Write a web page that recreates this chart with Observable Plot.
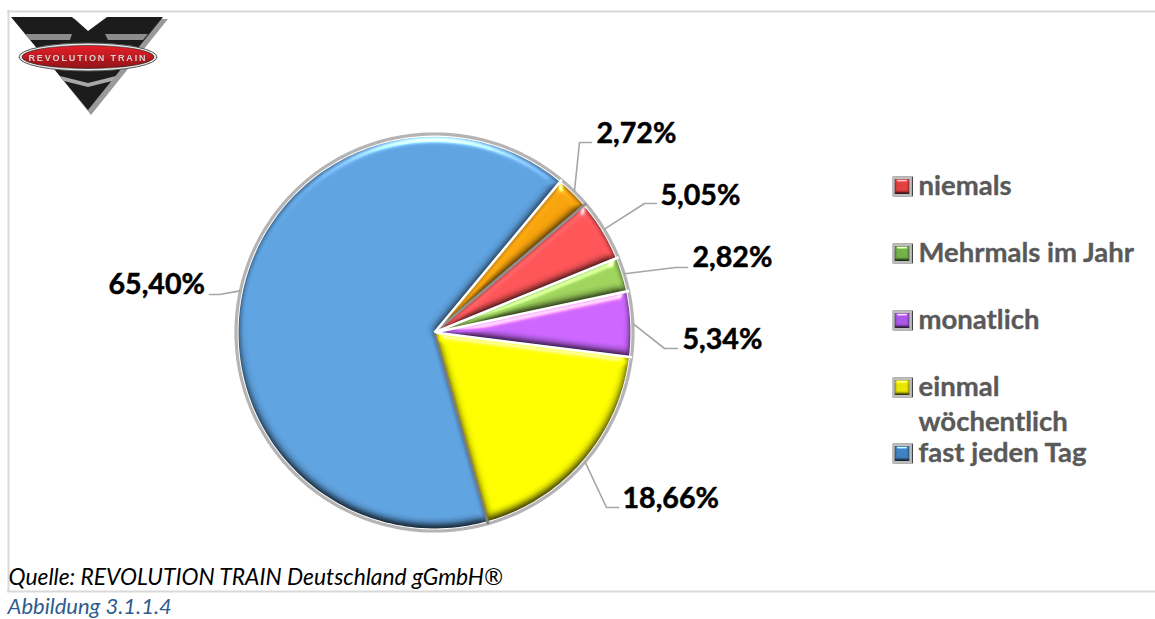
<!DOCTYPE html>
<html><head><meta charset="utf-8">
<script src="https://cdn.jsdelivr.net/npm/d3@7"></script>
<script src="https://cdn.jsdelivr.net/npm/@observablehq/plot@0.6"></script>
<style>html,body{margin:0;padding:0;background:#fff;overflow:hidden}#page{position:relative;width:1155px;height:619px}#logo{position:absolute;left:0;top:0}svg{display:block}</style>
</head><body><div id="page"><div id="chart"></div>
<svg id="logo" width="180" height="125" viewBox="0 0 180 125">
<defs><linearGradient id="redg" x1="0" y1="0" x2="0" y2="1"><stop offset="0" stop-color="#e8202a"/><stop offset="1" stop-color="#8e1418"/></linearGradient>
<filter id="soft" x="-5%" y="-5%" width="110%" height="110%"><feGaussianBlur stdDeviation="0.6"/></filter></defs>
<g filter="url(#soft)">
<polygon points="14,19 75,19 90,33 110,19 168,19 91,115" fill="#9a9a9a"/>
<polygon points="11,17 72,17 88,31 107,17 163,17 88,110" fill="#1d1c1e"/>
<polygon points="25,34 72,34 70,40 30,40" fill="#8c8c8c"/>
<polygon points="105,34 148,34 143,40 108,40" fill="#8c8c8c"/>
<polygon points="60,76 88,83 116,76 112,81 88,87 64,81" fill="#a8a8a8"/>
<ellipse cx="88" cy="57" rx="69" ry="14" fill="#e8e8e8" stroke="#555" stroke-width="1"/>
<ellipse cx="88" cy="57" rx="66" ry="11.5" fill="url(#redg)" stroke="#222" stroke-width="0.6"/>
<text x="87" y="60.5" text-anchor="middle" font-family="Liberation Sans" font-weight="700" font-size="9" textLength="117" fill="#d8d0d0">REVOLUTION TRAIN</text>
</g></svg></div>
<script>
// --- data ---
const categories = ["Orange", "niemals", "Mehrmals im Jahr", "monatlich", "einmal wöchentlich", "fast jeden Tag"];
const values = [2.72, 5.05, 2.82, 5.34, 18.66, 65.40];
const valueLabels = ["2,72%", "5,05%", "2,82%", "5,34%", "18,66%", "65,40%"];
const legendItems = ["niemals", "Mehrmals im Jahr", "monatlich", "einmal", "fast jeden Tag"];

// --- styles and layout, apart from the data ---
const sliceColors = ["#f7a30c", "#ff5558", "#9ed35c", "#cc66ff", "#ffff00", "#5fa3e1"];
const swatchColors = ["#e2403f", "#74b04a", "#a958e6", "#e6e600", "#3f82c2"];
const cx = 434, cy = 332, R = 196, ringR = 198.5, startDeg = 39.8;
const elbowX = [579, 644, 675, 664, 606, 219];
const elbowY = [142, 203, 267, 348, 507, 294];
const endX   = [591, 656, 687, 677, 618, 209];
const labelX = [596, 660, 692, 682, 622, 108];
const labelY = [133, 195, 257, 339, 498, 284];
const legendY = [186, 253, 320, 387, 453];
const legendTextY = [186, 253, 320, 387, 453];

const rad = d => d * Math.PI / 180;
const total = d3.sum(values);
let acc = startDeg;
const slices = values.map((v, i) => {
  const a0 = acc, a1 = acc + v / total * 360; acc = a1;
  return {name: categories[i], a0, a1, mid: (a0 + a1) / 2};
});
const polar = (deg, r) => ({x: cx + r * Math.sin(rad(deg)), y: cy - r * Math.cos(rad(deg))});
const slicePts = slices.flatMap(s => {
  const n = Math.max(4, Math.ceil((s.a1 - s.a0) / 1.5));
  const pts = [{...polar(0, 0), name: s.name}];
  for (let k = 0; k <= n; k++) pts.push({...polar(s.a0 + (s.a1 - s.a0) * k / n, R), name: s.name});
  pts.push({...polar(0, 0), name: s.name});
  return pts;
});
const ringPts = slices.flatMap(s => {
  const n = Math.ceil((s.a1 - s.a0) / 1.5), pts = [];
  for (let k = 0; k <= n; k++) pts.push({...polar(s.a0 + (s.a1 - s.a0) * k / n, ringR), name: s.name});
  return pts;
});
const sepColors = ["#8f8f8f", "#ffffff", "#ffffff", "#ffffff", "#7d7d7d", "#ffffff"]; // boundary at the end of each slice
const seps = slices.map((s, i) => {
  const p = polar(s.a1, ringR + 0.5), o = polar(0, 0);
  return {x1: o.x, y1: o.y, x2: p.x, y2: p.y, c: sepColors[i]};
});
const leaders = slices.flatMap((s, i) => {
  const p = polar(s.mid, 199);
  return [{i, x: p.x, y: p.y}, {i, x: elbowX[i], y: elbowY[i]}, {i, x: endX[i], y: elbowY[i]}];
});
const labels = valueLabels.map((t, i) => ({t, x: labelX[i], y: labelY[i]}));
const legend = legendItems.map((t, i) => ({t, x: 901.5, tx: 918, y: legendY[i], ty: legendTextY[i], c: swatchColors[i]}));

const plot = Plot.plot({
  width: 1155, height: 619, margin: 0,
  x: {domain: [0, 1155], range: [0, 1155], axis: null},
  y: {domain: [0, 619], range: [0, 619], axis: null},
  color: {domain: categories, range: sliceColors},
  style: {background: "#fff"},
  marks: [
    // frame
    Plot.ruleY([11, 591], {x1: 7, x2: 1155, stroke: "#d9d9d9", strokeWidth: 2}),
    Plot.ruleX([8], {y1: 10, y2: 592, stroke: "#d9d9d9", strokeWidth: 2}),
    // pie
    Plot.line(ringPts, {x: "x", y: "y", z: "name", stroke: "#b4b4b4", strokeWidth: 3.2}),
    Plot.line(slicePts, {x: "x", y: "y", z: "name", fill: "name", stroke: "none"}),
    Plot.link(seps, {x1: "x1", y1: "y1", x2: "x2", y2: "y2", stroke: "c", strokeWidth: 2.6}),
    // leaders and labels
    Plot.line(leaders, {x: "x", y: "y", z: "i", stroke: "#a6a6a6", strokeWidth: 1.6}),
    Plot.text(labels, {x: "x", y: "y", text: "t", textAnchor: "start", lineAnchor: "middle", fontFamily: "Lato", fontWeight: 700, fontSize: 28.6, fill: "#000", stroke: "#000", strokeWidth: 0.5}),
    // legend
    Plot.dot(legend, {x: "x", y: "y", symbol: "square", r: 11.2, dx: 1, fill: "#333", stroke: "none"}),
    Plot.dot(legend, {x: "x", y: "y", symbol: "square", r: 11.2, fill: "#bdbdbd", stroke: "none"}),
    Plot.dot(legend, {x: "x", y: "y", symbol: "square", r: 8.4, fill: "c", stroke: "none"}),
    Plot.text(legend, {x: "tx", y: "ty", text: "t", textAnchor: "start", lineAnchor: "middle", fontFamily: "Lato", fontWeight: 700, fontSize: 27.5, fill: "#595959", stroke: "#595959", strokeWidth: 0.35}),
    Plot.text(["wöchentlich"], {x: 918, y: 422, textAnchor: "start", lineAnchor: "middle", fontFamily: "Lato", fontWeight: 700, fontSize: 27.5, fill: "#595959", stroke: "#595959", strokeWidth: 0.35}),
    // captions
    Plot.text(["Quelle: REVOLUTION TRAIN Deutschland gGmbH®"], {x: 8, y: 577, textAnchor: "start", lineAnchor: "middle", fontFamily: "Lato", fontStyle: "italic", fontSize: 22.8, fill: "#000"}),
    Plot.text(["Abbildung 3.1.1.4"], {x: 7, y: 606, textAnchor: "start", lineAnchor: "middle", fontFamily: "Lato", fontStyle: "italic", fontSize: 22, fill: "#2e5c8f"})
  ]
});

// bevel filters for the slices and the legend swatches
const ns = "http://www.w3.org/2000/svg";
const bevel = (id, region, blur, scale, edgeBlur) => `<filter id="${id}" ${region} color-interpolation-filters="sRGB">
<feGaussianBlur in="SourceAlpha" stdDeviation="${blur}" result="b"/>
<feGaussianBlur in="SourceAlpha" stdDeviation="${edgeBlur}" result="e"/>
<feColorMatrix in="e" type="matrix" values="0 0 0 0.7 0.3  0 0 0 0.7 0.3  0 0 0 0.7 0.3  0 0 0 0 1" result="edge"/>
<feBlend in="SourceGraphic" in2="edge" mode="multiply" result="m0"/>
<feDiffuseLighting in="b" surfaceScale="${scale}" diffuseConstant="1.414" lighting-color="#fff" result="d"><feDistantLight azimuth="270" elevation="45"/></feDiffuseLighting>
<feBlend in="m0" in2="d" mode="multiply" result="m"/>
<feSpecularLighting in="b" surfaceScale="${scale}" specularConstant="0.6" specularExponent="70" lighting-color="#fff" result="s"><feDistantLight azimuth="270" elevation="45"/></feSpecularLighting>
<feComposite in="m" in2="s" operator="arithmetic" k1="0" k2="1" k3="1" k4="0" result="lit"/>
<feComposite in="lit" in2="SourceAlpha" operator="in"/></filter>`;
const defs = document.createElementNS(ns, "defs");
defs.innerHTML = bevel("bevel", 'filterUnits="userSpaceOnUse" x="0" y="0" width="1155" height="619"', 4, 3, 2.5)
  + bevel("bevelS", 'x="-30%" y="-30%" width="160%" height="160%"', 1.5, 1.4, 1.2);
plot.prepend(defs);
plot.querySelectorAll('g[aria-label="line"] path[fill]').forEach(p => { if (p.getAttribute("fill") !== "none") p.setAttribute("filter", "url(#bevel)"); });
const dotGroups = plot.querySelectorAll('g[aria-label="dot"]');
dotGroups[2].querySelectorAll("path").forEach(p => p.setAttribute("filter", "url(#bevelS)"));
document.getElementById("chart").append(plot);
</script></body></html>
